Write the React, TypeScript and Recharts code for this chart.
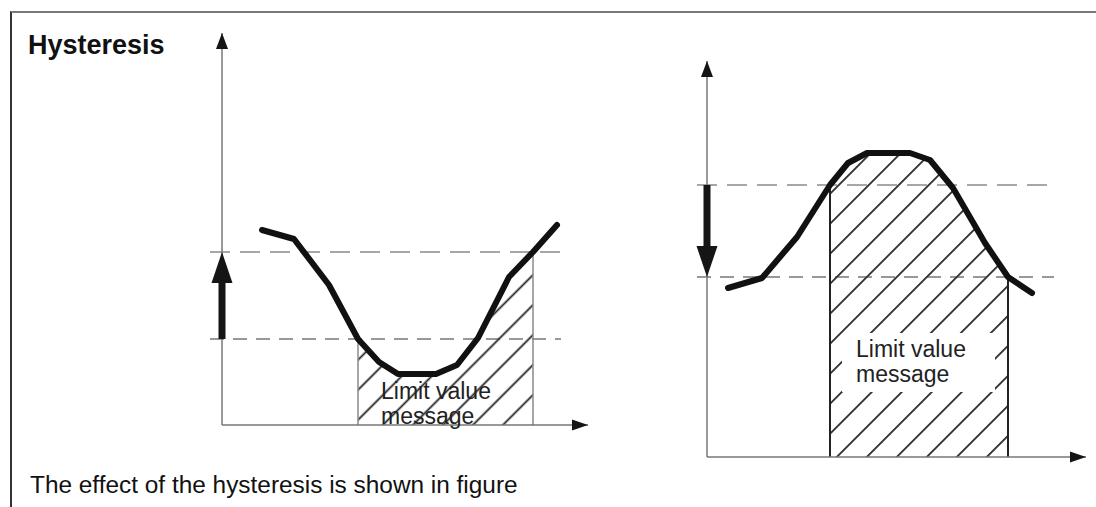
import React from 'react';
import { ComposedChart, Line, Area, XAxis, YAxis, ReferenceLine, ReferenceDot } from 'recharts';

// ─── Data (axis units ≈ px from each origin) ─────────────────────────────────

// left panel: value drops below the lower limit, message held until upper limit
const leftX = [40, 72, 107, 136, 157, 176, 214, 235, 256, 287, 311, 335];
const leftY = [195, 186, 140, 86, 63, 51, 51, 60, 87, 148, 173, 200];
const leftLimits = [173, 86]; // upper, lower
const leftMsg = [136, 311]; // message on, off

// right panel: value rises above the upper limit, held until lower limit
const rightX = [21, 55, 90, 123, 141, 160, 203, 223, 246, 278, 301, 325];
const rightY = [169, 179, 220, 272, 294, 304, 304, 297, 269, 214, 180, 164];
const rightLimits = [272, 180];
const rightMsg = [123, 301];

const msgText = ['Limit value', 'message'];

const FONT = '"Liberation Sans", Arial, Helvetica, sans-serif';
const W = 1096;
const H = 507;

type Panel = {
  id: string;
  xs: number[];
  ys: number[];
  limits: number[];
  msg: number[];
  xMax: number;
  yMax: number;
  margin: { top: number; right: number; bottom: number; left: number };
  dash: [number, number];
  arrow: 'up' | 'down';
  edge: string;
  edgeW: number;
  phase: number;
  labelAt: { x: number; y: number };
  labelBox: boolean;
};

// axes take 1px each, so margins are shifted by one
const panels: Panel[] = [
  {
    id: 'L', xs: leftX, ys: leftY, limits: leftLimits, msg: leftMsg,
    xMax: 366, yMax: 392,
    margin: { top: 33, left: 221, right: W - 588, bottom: H - 426 },
    dash: [-12, 339], arrow: 'up', edge: '#8a8a8a', edgeW: 1.5, phase: 19.8,
    labelAt: { x: 159, y: 26 }, labelBox: false,
  },
  {
    id: 'R', xs: rightX, ys: rightY, limits: rightLimits, msg: rightMsg,
    xMax: 379, yMax: 396,
    margin: { top: 61, left: 706, right: W - 1086, bottom: H - 458 },
    dash: [-10, 347], arrow: 'down', edge: '#222', edgeW: 2, phase: 2.8,
    labelAt: { x: 149, y: 100 }, labelBox: true,
  },
];

// ─── Shapes ──────────────────────────────────────────────────────────────────

function HystArrow(p: any) {
  const { x1, y1, x2, y2 } = p;
  const dir = Math.sign(y2 - y1);
  const yb = y2 - dir * 31;
  return (
    <g>
      <rect x={x1 - 3.5} y={Math.min(y1, yb)} width={7} height={Math.abs(yb - y1)} fill="#151515" />
      <polygon points={`${x2},${y2} ${x2 - 10.5},${yb} ${x2 + 10.5},${yb}`} fill="#151515" />
    </g>
  );
}

const upHead = (p: any) => (
  <polygon points={`${p.cx},${p.cy} ${p.cx - 6},${p.cy + 16} ${p.cx + 6},${p.cy + 16}`} fill="#151515" />
);
const rightHead = (p: any) => (
  <polygon points={`${p.cx},${p.cy} ${p.cx - 16},${p.cy - 5.5} ${p.cx - 16},${p.cy + 5.5}`} fill="#151515" />
);

function MsgLabel(box: boolean) {
  return (p: any) => (
    <g>
      {box && <rect x={p.cx - 14} y={p.cy - 24} width={153} height={59} fill="#fff" />}
      {msgText.map((t, i) => (
        <text key={t} x={p.cx} y={p.cy + i * 25} fontSize={23} fontFamily={FONT} fill="#222">
          {t}
        </text>
      ))}
    </g>
  );
}

// ─── Panel chart ─────────────────────────────────────────────────────────────

function HystPanel({ p }: { p: Panel }) {
  const pts = p.xs.map((x, i) => ({ x, y: p.ys[i] }));
  const hatched = pts.filter(d => d.x >= p.msg[0] && d.x <= p.msg[1]);
  const yAt = (x: number) => pts.find(d => d.x === x)?.y ?? 0;
  const [upper, lower] = p.limits;
  const arrowSeg = p.arrow === 'up'
    ? [{ x: 0, y: lower }, { x: 0, y: upper }]
    : [{ x: 0, y: upper }, { x: 0, y: lower }];

  return (
    <div style={{ position: 'absolute', left: 0, top: 0 }}>
      <ComposedChart width={W} height={H} margin={p.margin}>
        <defs>
          <pattern id={`hatch${p.id}`} patternUnits="userSpaceOnUse" width={21.21} height={21.21}
            patternTransform="rotate(45)">
            <line x1={p.phase} y1={0} x2={p.phase} y2={21.21} stroke="#222" strokeWidth={1.8} />
          </pattern>
        </defs>
        <XAxis type="number" dataKey="x" domain={[0, p.xMax]} allowDataOverflow tick={false} tickLine={false}
          height={1} axisLine={{ stroke: '#777', strokeWidth: 1.5 }} />
        <YAxis type="number" dataKey="y" domain={[0, p.yMax]} allowDataOverflow tick={false} tickLine={false}
          width={1} axisLine={{ stroke: '#777', strokeWidth: 1.5 }} />

        <Area data={hatched} dataKey="y" type="linear" baseValue={0} stroke="none"
          fill={`url(#hatch${p.id})`} fillOpacity={1} isAnimationActive={false} />

        <ReferenceLine segment={[{ x: p.dash[0], y: upper }, { x: p.dash[1], y: upper }]} ifOverflow="visible"
          stroke="#8a8a8a" strokeWidth={1.5} strokeDasharray="20 10" />
        <ReferenceLine segment={[{ x: p.dash[0], y: lower }, { x: p.dash[1], y: lower }]} ifOverflow="visible"
          stroke="#333" strokeWidth={1.2} strokeDasharray="14 9" />

        {p.msg.map(m => (
          <ReferenceLine key={m} segment={[{ x: m, y: 0 }, { x: m, y: yAt(m) }]} ifOverflow="visible"
            stroke={p.edge} strokeWidth={p.edgeW} />
        ))}

        <ReferenceDot x={p.labelAt.x} y={p.labelAt.y} r={0} ifOverflow="visible" shape={MsgLabel(p.labelBox)} />

        <Line data={pts} dataKey="y" type="linear" stroke="#111" strokeWidth={6} dot={false}
          strokeLinecap="round" strokeLinejoin="round" isAnimationActive={false} />

        <ReferenceLine segment={arrowSeg} ifOverflow="visible" shape={HystArrow} zIndex={1000} />
        <ReferenceDot x={0} y={p.yMax} r={0} ifOverflow="visible" shape={upHead} zIndex={1000} />
        <ReferenceDot x={p.xMax} y={0} r={0} ifOverflow="visible" shape={rightHead} zIndex={1000} />
      </ComposedChart>
    </div>
  );
}

export default function App() {
  return (
    <div style={{ position: 'absolute', left: 0, top: 0, width: W, height: H, background: '#fff', fontFamily: FONT, overflow: 'hidden' }}>
      <div style={{ position: 'absolute', left: 10, top: 11, width: W - 10, height: H - 11, borderTop: '2px solid #7a7a7a', borderLeft: '2px solid #333', boxSizing: 'border-box' }} />
      {panels.map(p => <HystPanel key={p.id} p={p} />)}
      <div style={{ position: 'absolute', left: 28, top: 32, fontSize: 27, lineHeight: '27px', fontWeight: 'bold', color: '#111' }}>
        Hysteresis
      </div>
      <div style={{ position: 'absolute', left: 30, top: 473, fontSize: 24.4, lineHeight: '24px', color: '#111', whiteSpace: 'nowrap' }}>
        The effect of the hysteresis is shown in figure
      </div>
    </div>
  );
}
